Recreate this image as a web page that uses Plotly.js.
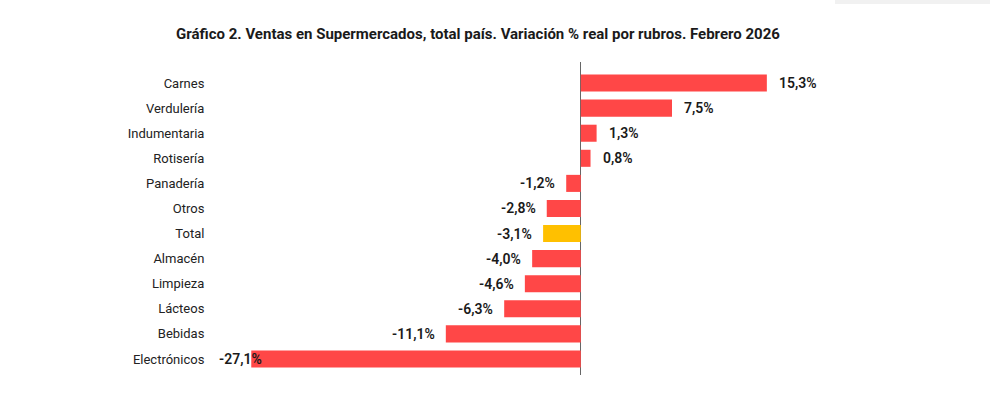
<!DOCTYPE html>
<html>
<head>
<meta charset="utf-8">
<script src="https://cdn.plot.ly/plotly-3.0.1.min.js"></script>
<style>
  html, body { margin: 0; padding: 0; background: #ffffff; }
  #chart { width: 990px; height: 396px; }
</style>
</head>
<body>
<div id="chart"></div>
<script>
// Rubros y variación % real, febrero 2026
const categories = ["Carnes", "Verdulería", "Indumentaria", "Rotisería", "Panadería", "Otros",
                    "Total", "Almacén", "Limpieza", "Lácteos", "Bebidas", "Electrónicos"];
const values = [15.3, 7.5, 1.3, 0.8, -1.2, -2.8, -3.1, -4.0, -4.6, -6.3, -11.1, -27.1];
const highlight = "Total";

const RED = "#ff4747";
const YELLOW = "#ffc000";
const FONT = "Roboto, 'Open Sans', sans-serif";

const fmt = v => v.toFixed(1).replace(".", ",") + "%";

const XMIN = -30, XMAX = 20;

const bars = {
  type: "bar",
  orientation: "h",
  y: categories,
  x: values,
  width: 0.68,
  marker: { color: categories.map(c => c === highlight ? YELLOW : RED), line: { width: 0 } },
  hoverinfo: "skip"
};

// Etiquetas de valor junto al extremo de cada barra
const annotations = values.map((v, i) => {
  const neg = v < 0;
  // si la barra llega casi al borde del eje, la etiqueta se desplaza hacia dentro
  const nearEdge = neg && v < XMIN + 4;
  return {
    x: v, y: categories[i], xref: "x", yref: "y",
    text: fmt(v), showarrow: false,
    xanchor: neg ? "right" : "left",
    xshift: neg ? (nearEdge ? 13 : -9) : 10,
    font: { family: FONT, size: 14, color: "#1a1a1a", weight: 600 }
  };
});

const layout = {
  width: 990, height: 396,
  margin: { l: 216, r: 166, t: 62, b: 21 },
  paper_bgcolor: "#ffffff",
  plot_bgcolor: "#ffffff",
  showlegend: false,
  title: {
    text: "<b>Gráfico 2. Ventas en Supermercados, total país. Variación % real por rubros. Febrero 2026</b>",
    x: 478 / 990, xanchor: "center", xref: "container",
    y: 0.915, yref: "container", yanchor: "middle",
    font: { family: FONT, size: 15, color: "#1a1a1a" }
  },
  xaxis: {
    range: [XMIN, XMAX],
    showgrid: false, showticklabels: false, ticks: "",
    zeroline: true, zerolinecolor: "#666666", zerolinewidth: 1,
    showline: false, fixedrange: true
  },
  yaxis: {
    type: "category",
    range: [11.64, -0.84],
    showgrid: false, zeroline: false, showline: false,
    ticks: "outside", ticklen: 8, tickcolor: "rgba(0,0,0,0)",
    tickfont: { family: FONT, size: 13, color: "#222222" },
    fixedrange: true
  },
  shapes: [
    { type: "rect", xref: "paper", yref: "paper",
      x0: (835 - 216) / 608, x1: (990 - 216) / 608,
      y0: 1 + (62 - 4) / 313, y1: 1 + 62 / 313,
      fillcolor: "#f1f1f1", line: { width: 0 }, layer: "below" }
  ],
  annotations: annotations
};

Plotly.newPlot("chart", [bars], layout, { displayModeBar: false, staticPlot: true });
</script>
</body>
</html>
